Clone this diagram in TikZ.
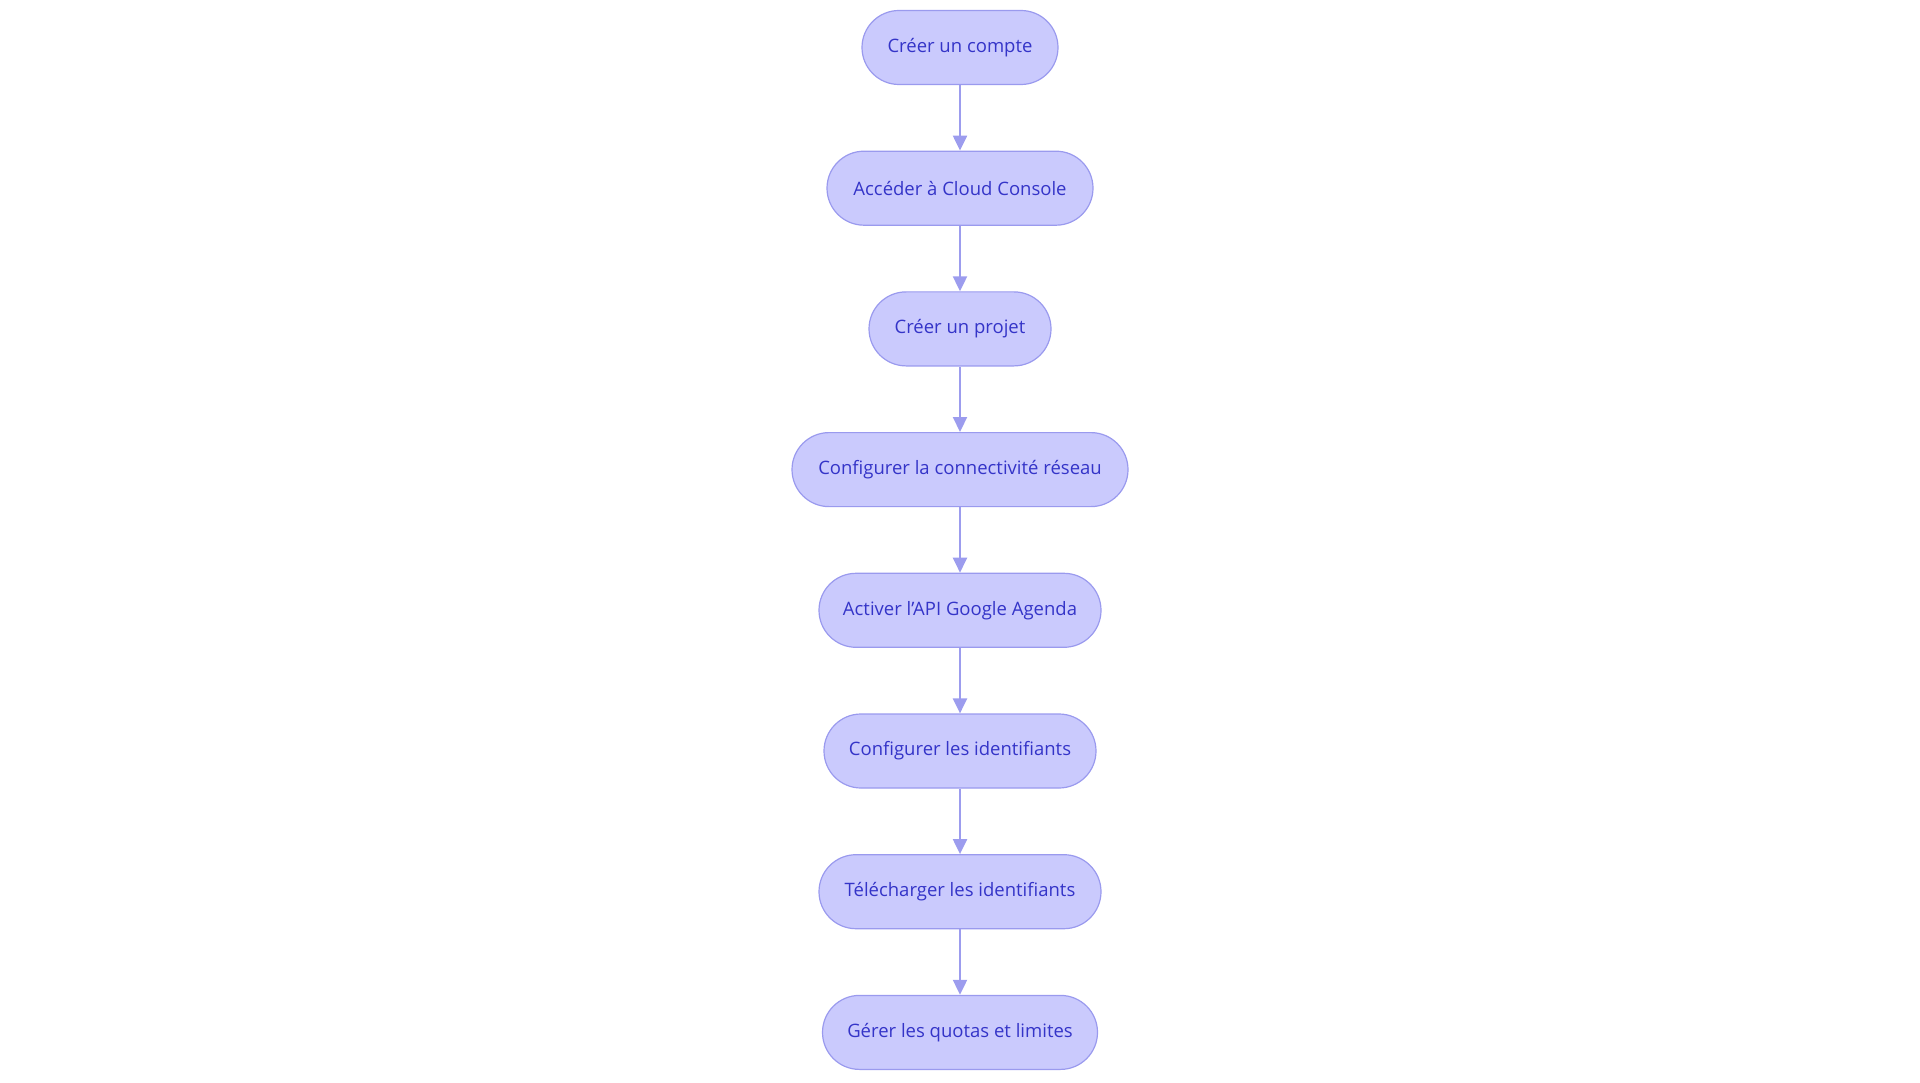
\documentclass[tikz,border=0pt]{standalone}
\usepackage{fontspec}
\setmainfont{Open Sans}
\usetikzlibrary{shapes.misc,arrows.meta}
\definecolor{nodefill}{HTML}{CACAFD}
\definecolor{nodedraw}{HTML}{9A9AEE}
\definecolor{nodetext}{HTML}{3434C8}
\definecolor{arrowcol}{HTML}{9C9CEE}
\tikzset{
  stepbox/.style={rounded rectangle, draw=nodedraw, fill=nodefill, line width=1.2pt,
    text=nodetext, font=\fontsize{18.5}{21}\selectfont, minimum height=74pt, inner xsep=0pt},
  flowarrow/.style={draw=arrowcol, line width=2.2pt, -{Triangle[length=15pt,width=14pt]}}
}
\begin{document}
\begin{tikzpicture}[x=1pt,y=1pt]
\useasboundingbox (0,0) rectangle (1920,-1083);
\node[stepbox, minimum width=196pt] (n1) at (960,-47.5) {Créer un compte};
\node[stepbox, minimum width=266pt] (n2) at (960,-188.2) {Accéder à Cloud Console};
\node[stepbox, minimum width=182pt] (n3) at (960,-328.9) {Créer un projet};
\node[stepbox, minimum width=336pt] (n4) at (960,-469.6) {Configurer la connectivité réseau};
\node[stepbox, minimum width=282pt] (n5) at (960,-610.3) {Activer l'API Google Agenda};
\node[stepbox, minimum width=272pt] (n6) at (960,-751.0) {Configurer les identifiants};
\node[stepbox, minimum width=282pt] (n7) at (960,-891.7) {Télécharger les identifiants};
\node[stepbox, minimum width=275pt] (n8) at (960,-1032.4) {Gérer les quotas et limites};
\foreach \a/\b in {n1/n2,n2/n3,n3/n4,n4/n5,n5/n6,n6/n7,n7/n8}
  \draw[flowarrow] (\a.south) -- (\b.north);
\end{tikzpicture}
\end{document}
